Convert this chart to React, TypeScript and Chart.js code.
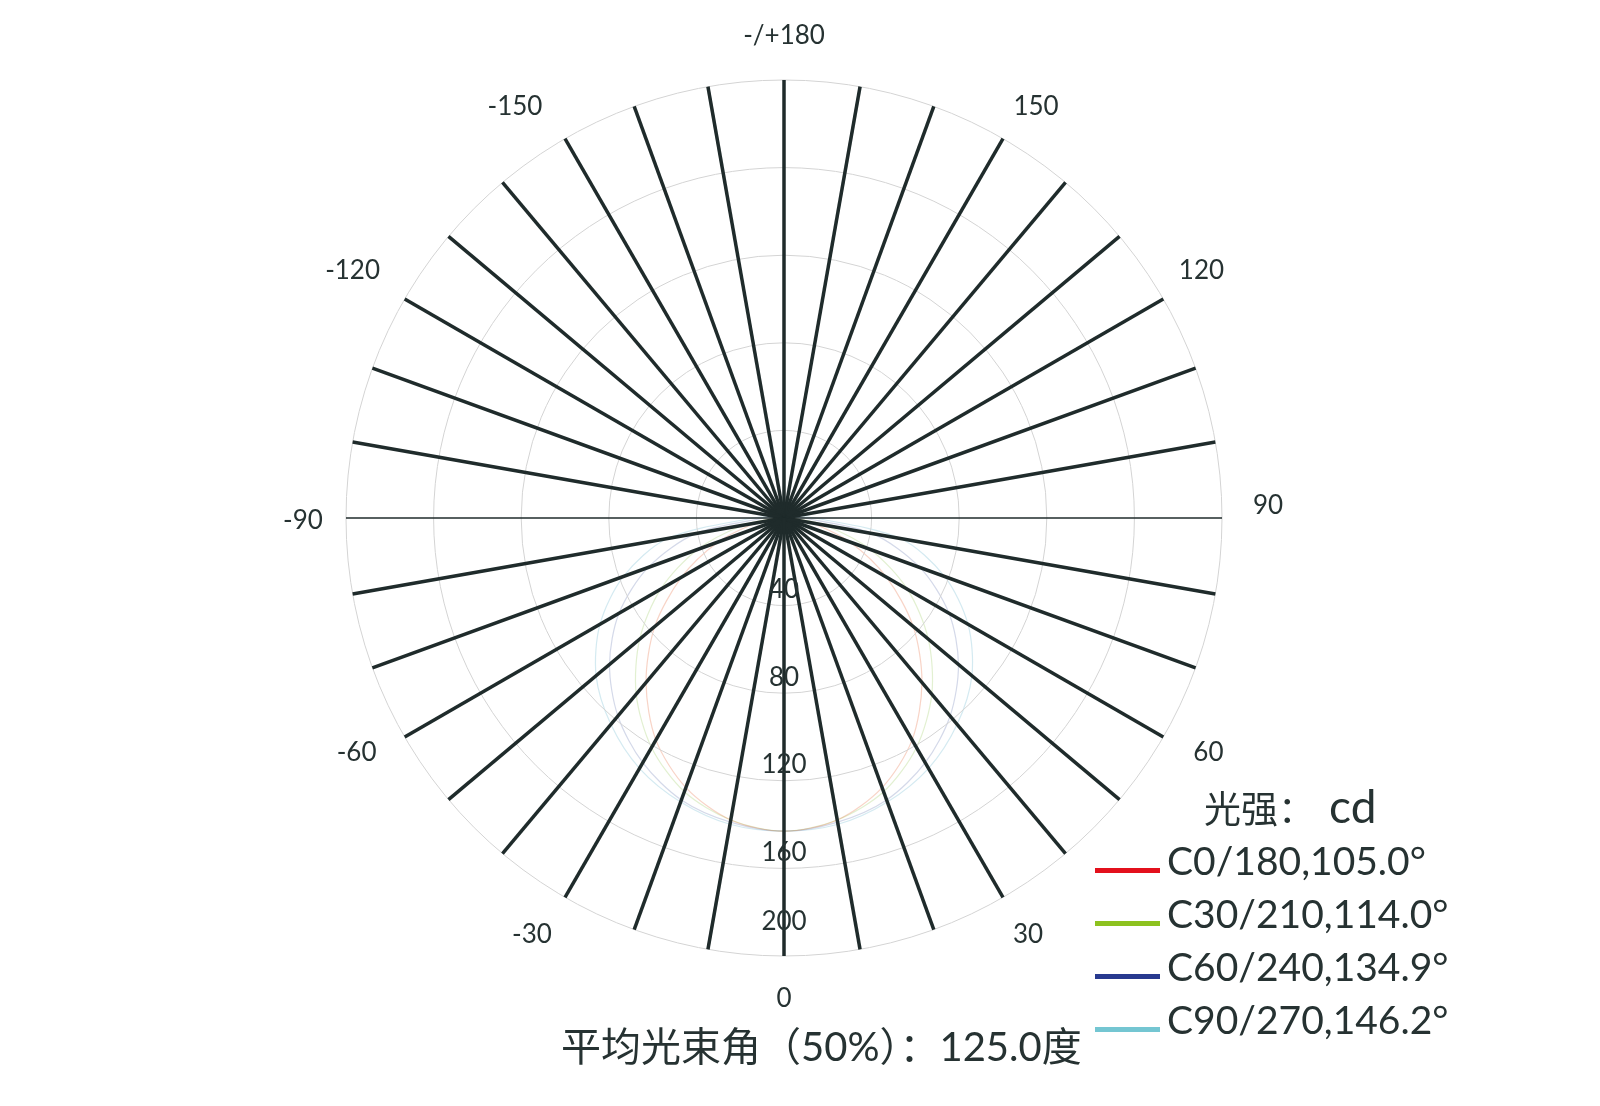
import React, { useEffect, useRef } from 'react';
import { Chart, registerables } from 'chart.js';

Chart.register(...registerables);

// Gamma angle categories, every 10 degrees, clockwise starting at the bottom (0)
const categories: string[] = [
  '0', '-10', '-20', '-30', '-40', '-50', '-60', '-70', '-80',
  '-90', '-100', '-110', '-120', '-130', '-140', '-150', '-160', '-170',
  '180', '170', '160', '150', '140', '130', '120', '110', '100',
  '90', '80', '70', '60', '50', '40', '30', '20', '10',
];

// Angle labels shown every 30 degrees
const angleTickLabels: string[] = ['0', '-30', '-60', '-90', '-120', '-150', '-/+180', '150', '120', '90', '60', '30'];

// Radial (intensity) ticks, cd
const radialTicks: number[] = [40, 80, 120, 160, 200];
const radialMax = 200;

const seriesNames: string[] = ['C0/180,105.0°', 'C30/210,114.0°', 'C60/240,134.9°', 'C90/270,146.2°'];
const seriesColors: string[] = ['#e3101c', '#8dc21f', '#283a8f', '#74c6d2'];
const seriesCurveColors: string[] = [
  'rgba(232, 120, 80, 0.32)',
  'rgba(150, 200, 90, 0.28)',
  'rgba(90, 110, 170, 0.26)',
  'rgba(120, 190, 210, 0.32)',
];

const c0: number[] = [143, 140, 131, 117, 98, 77, 54, 32, 13, 3, 1, 0, 0, 0, 0, 0, 0, 0, 0, 0, 0, 0, 0, 0, 0, 0, 1, 3, 13, 32, 54, 77, 98, 117, 131, 140];
const c30: number[] = [143, 140, 133, 121, 105, 86, 65, 42, 19, 4, 1, 0, 0, 0, 0, 0, 0, 0, 0, 0, 0, 0, 0, 0, 0, 0, 1, 4, 19, 42, 65, 86, 105, 121, 133, 140];
const c60: number[] = [143, 141, 137, 129, 118, 104, 87, 66, 41, 9, 2, 1, 0, 0, 0, 0, 0, 0, 0, 0, 0, 0, 0, 0, 0, 1, 2, 9, 41, 66, 87, 104, 118, 129, 137, 141];
const c90: number[] = [143, 142, 138, 132, 123, 112, 97, 78, 54, 14, 3, 1, 0, 0, 0, 0, 0, 0, 0, 0, 0, 0, 0, 0, 0, 1, 3, 14, 54, 78, 97, 112, 123, 132, 138, 142];
const seriesData: number[][] = [c0, c30, c60, c90];

const unitLabelCn = '光强：';
const unitLabelEn = 'cd';
const beamText = '平均光束角（50%）：125.0度';

const TEXT = '#263232';
const FONT = "Lato, 'Noto Sans CJK SC', sans-serif";

// Small label placement nudges (style), in px
const LABEL_NUDGE: Record<string, [number, number]> = {
  '150': [11, 6], '-150': [-28, 6],
  '120': [0, -6], '-120': [-14, -6],
  '90': [2, -12], '-90': [1, 3],
  '60': [7, -6], '-60': [-10, -6],
  '30': [3, -1], '-30': [-11, -1],
  '0': [0, -1], '-/+180': [0, 0],
};

const polarLabelsPlugin = {
  id: 'polarLabels',
  afterDraw(chart: any) {
    const s = chart.scales.r;
    const ctx = chart.ctx;
    ctx.save();
    ctx.fillStyle = TEXT;
    ctx.font = `26px ${FONT}`;
    ctx.textAlign = 'center';
    ctx.textBaseline = 'middle';
    for (let i = 0; i < categories.length; i += 3) {
      const label = angleTickLabels[i / 3];
      const p = s.getPointPosition(i, s.drawingArea + 44);
      const n = LABEL_NUDGE[label] || [0, 0];
      ctx.fillText(label, p.x + n[0], p.y + n[1]);
    }
    radialTicks.forEach((v) => {
      const d = s.getDistanceFromCenterForValue(v);
      const off = v === s.max ? 34 : 16;
      const p = s.getPointPosition(0, d - off);
      ctx.fillText(String(v), p.x, p.y);
    });
    ctx.restore();
  },
};

export default function App() {
  const ref = useRef<HTMLCanvasElement | null>(null);

  useEffect(() => {
    if (!ref.current) return;
    const chart = new Chart(ref.current, {
      type: 'radar',
      data: {
        labels: categories,
        datasets: seriesData.map((d, k) => ({
          label: seriesNames[k],
          data: d,
          borderColor: seriesCurveColors[k],
          backgroundColor: 'transparent',
          borderWidth: 1.2,
          pointRadius: 0,
          fill: false,
          tension: 0.3,
        })),
      },
      options: {
        responsive: false,
        animation: false,
        devicePixelRatio: 1,
        layout: { padding: { left: 346, right: 378, top: 80, bottom: 150 } },
        plugins: { legend: { display: false }, tooltip: { enabled: false } },
        scales: {
          r: {
            min: 0,
            max: radialMax,
            startAngle: 180,
            ticks: { display: false, stepSize: 40, z: 1 },
            pointLabels: { display: false },
            grid: { circular: true, color: '#d4d4d4', lineWidth: 1, z: 1 },
            angleLines: {
              display: true,
              color: '#1f2b2b',
              lineWidth: (ctx: any) => (ctx.index % 18 === 9 ? 1.6 : 3.5),
            },
          },
        },
      } as any,
      plugins: [polarLabelsPlugin],
    });
    return () => chart.destroy();
  }, []);

  return (
    <div style={{ position: 'fixed', left: 0, top: 0, width: 1600, height: 1106, background: '#fff', overflow: 'hidden', fontFamily: FONT, color: TEXT }}>
      <canvas ref={ref} width={1600} height={1106} style={{ position: 'absolute', left: 0, top: 0 }} />
      <div style={{ position: 'absolute', left: 1204, top: 807 - 24, fontSize: 37, lineHeight: '46px', whiteSpace: 'nowrap' }}>
        {unitLabelCn}
        <span style={{ fontSize: 46, marginLeft: 14 }}>{unitLabelEn}</span>
      </div>
      {seriesNames.map((name, k) => (
        <React.Fragment key={name}>
          <div style={{ position: 'absolute', left: 1095, top: 868 + k * 53, width: 65, height: 5, background: seriesColors[k] }} />
          <div style={{ position: 'absolute', left: 1167, top: 862 + k * 53 - 21, fontSize: 39, lineHeight: '39px', whiteSpace: 'nowrap' }}>{name}</div>
        </React.Fragment>
      ))}
      <div style={{ position: 'absolute', left: 561, top: 1048 - 22, fontSize: 40, lineHeight: '40px', whiteSpace: 'nowrap' }}>
        {beamText}
      </div>
    </div>
  );
}
